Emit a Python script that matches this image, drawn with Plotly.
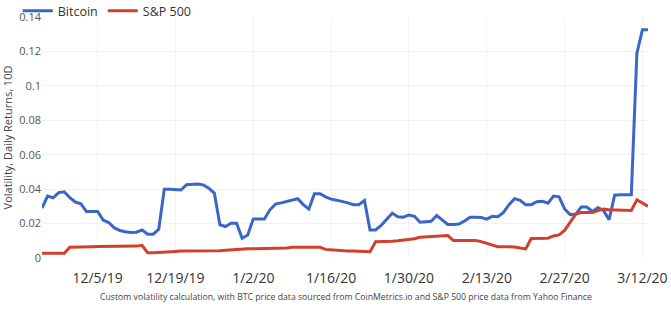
import pandas as pd
import plotly.graph_objects as go

start_date = "2019-11-25"

bitcoin = [
    0.029, 0.036, 0.035, 0.038, 0.0385, 0.035, 0.0325, 0.0315, 0.027, 0.027,
    0.027, 0.022, 0.0206, 0.0175, 0.016, 0.0153, 0.0148, 0.015, 0.0163, 0.0138,
    0.0138, 0.0167, 0.040, 0.040, 0.0397, 0.0395, 0.0426, 0.043, 0.043, 0.0425,
    0.0406, 0.0377, 0.0193, 0.0183, 0.0202, 0.0202, 0.0115, 0.0134, 0.0226, 0.0226,
    0.0226, 0.028, 0.0313, 0.032, 0.0329, 0.0336, 0.0344, 0.031, 0.0284, 0.0373,
    0.0373, 0.0355, 0.0342, 0.0336, 0.0329, 0.032, 0.031, 0.031, 0.0334, 0.0163,
    0.0163, 0.019, 0.0225, 0.026, 0.024, 0.0237, 0.025, 0.0242, 0.0208, 0.021,
    0.0213, 0.0247, 0.0222, 0.0195, 0.0195, 0.0197, 0.0215, 0.0237, 0.0236, 0.0235,
    0.0226, 0.0242, 0.024, 0.0265, 0.031, 0.0345, 0.0335, 0.031, 0.031, 0.0327,
    0.033, 0.0318, 0.036, 0.0355, 0.0285, 0.0252, 0.0255, 0.0296, 0.0296, 0.027,
    0.0292, 0.0276, 0.0222, 0.0365, 0.0367, 0.0368, 0.0368, 0.119, 0.1326, 0.1326,
]

sp500 = [
    0.0027, 0.0027, 0.0027, 0.0027, 0.0027, 0.0062, 0.0064, 0.0065, 0.0066, 0.0066,
    0.0067, 0.0067, 0.0068, 0.0069, 0.0069, 0.0070, 0.0070, 0.0069, 0.0074, 0.0031,
    0.0031, 0.0032, 0.0033, 0.0033, 0.0038, 0.0040, 0.0040, 0.0040, 0.0040, 0.0040,
    0.0040, 0.0040, 0.0042, 0.0045, 0.0048, 0.0050, 0.0052, 0.0054, 0.0054, 0.0054,
    0.0054, 0.0054, 0.0054, 0.0054, 0.0058, 0.0062, 0.0062, 0.0062, 0.0062, 0.0062,
    0.0062, 0.0050, 0.0047, 0.0043, 0.0040, 0.0040, 0.0040, 0.0039, 0.0037, 0.0037,
    0.0095, 0.0095, 0.0095, 0.0097, 0.0100, 0.0103, 0.0107, 0.0112, 0.0120, 0.0122,
    0.0125, 0.0130, 0.0130, 0.0130, 0.0101, 0.0101, 0.0103, 0.0103, 0.0102, 0.0095,
    0.0086, 0.0078, 0.0066, 0.0066, 0.0065, 0.0064, 0.0058, 0.0053, 0.0113, 0.0115,
    0.0115, 0.0115, 0.0128, 0.0134, 0.0160, 0.0210, 0.0255, 0.0264, 0.0264, 0.0264,
    0.0275, 0.0284, 0.0280, 0.0278, 0.0277, 0.0276, 0.0276, 0.0338, 0.0320, 0.0300,
]

dates = pd.date_range(start_date, periods=len(bitcoin), freq="D")

x_tickvals = ["2019-12-05", "2019-12-19", "2020-01-02", "2020-01-16",
              "2020-01-30", "2020-02-13", "2020-02-27", "2020-03-12"]
x_ticktext = ["12/5/19", "12/19/19", "1/2/20", "1/16/20",
              "1/30/20", "2/13/20", "2/27/20", "3/12/20"]
y_tickvals = [0, 0.02, 0.04, 0.06, 0.08, 0.1, 0.12, 0.14]
y_ticktext = ["0", "0.02", "0.04", "0.06", "0.08", "0.1", "0.12", "0.14"]

note = ("Custom volatility calculation, with BTC price data sourced from "
        "CoinMetrics.io and S&P 500 price data from Yahoo Finance")

fig = go.Figure()
fig.add_trace(go.Scatter(x=dates, y=bitcoin, mode="lines", name="Bitcoin",
                         line=dict(color="#3a66c8", width=3)))
fig.add_trace(go.Scatter(x=dates, y=sp500, mode="lines", name="S&P 500",
                         line=dict(color="#d1402a", width=3)))

fig.update_layout(
    width=671, height=330,
    margin=dict(l=42, r=23, t=17, b=72, autoexpand=False),
    paper_bgcolor="white", plot_bgcolor="white",
    font=dict(family="Open Sans", color="#444"),
    showlegend=True,
    legend=dict(orientation="h", x=-0.04, xanchor="left", y=1.087, yanchor="top",
                font=dict(size=12.5, color="#333"), bgcolor="rgba(0,0,0,0)",
                itemwidth=30, tracegroupgap=0),
    xaxis=dict(range=[dates[0], dates[-1]], tickvals=x_tickvals, ticktext=x_ticktext,
               tickfont=dict(size=14, color="#333"), showgrid=True,
               gridcolor="#f2f2f2", zeroline=False, showline=False, ticks="",
               ticklabelstandoff=10),
    yaxis=dict(range=[0, 0.14], tickvals=y_tickvals, ticktext=y_ticktext,
               tickfont=dict(size=11, color="#555"), showgrid=True,
               gridcolor="#f2f2f2", zeroline=False, showline=False, ticks="",
               title=dict(text="Volatility, Daily Returns, 10D",
                          font=dict(size=11, color="#444"), standoff=6)),
    annotations=[dict(text=note, xref="paper", yref="paper", x=0.502, y=-0.162,
                      xanchor="center", yanchor="middle", showarrow=False,
                      font=dict(size=8.7, color="#444"))],
)

fig.write_html("out.html")
